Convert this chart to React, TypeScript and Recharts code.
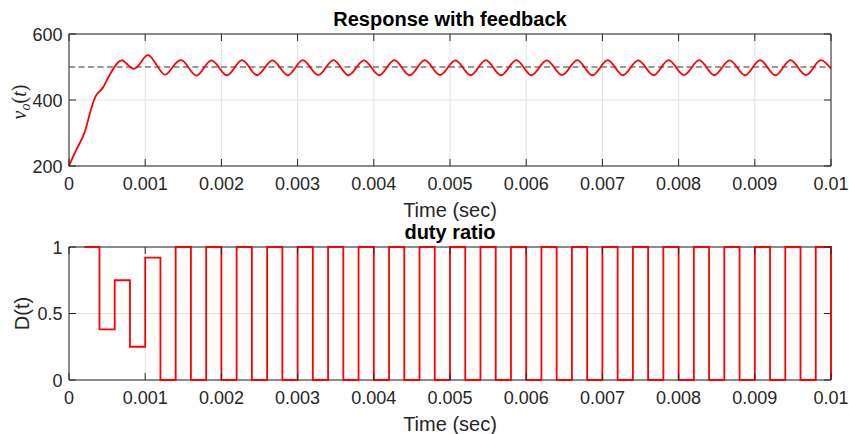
import { LineChart, Line, XAxis, YAxis, CartesianGrid, ReferenceLine, ReferenceArea } from "recharts";

// v_o(t): start-up, then crests / crossings / troughs of the ripple
const vTimes = [
  0, 0.0001, 0.0002, 0.00026, 0.00032, 0.00037, 0.00044, 0.00051, 0.00058, 0.00064,
  0.0007, 0.00078, 0.00086, 0.00095, 0.00104, 0.00115, 0.00126, 0.00136, 0.00147,
  0.00157, 0.00167, 0.00177, 0.00187, 0.00197, 0.00207, 0.00217, 0.00227,
  0.00237, 0.00247, 0.00257, 0.00267, 0.00277, 0.00287, 0.00297, 0.00307,
  0.00317, 0.00327, 0.00337, 0.00347, 0.00357, 0.00367, 0.00377, 0.00387,
  0.00397, 0.00407, 0.00417, 0.00427, 0.00437, 0.00447, 0.00457, 0.00467,
  0.00477, 0.00487, 0.00497, 0.00507, 0.00517, 0.00527, 0.00537, 0.00547,
  0.00557, 0.00567, 0.00577, 0.00587, 0.00597, 0.00607, 0.00617, 0.00627,
  0.00637, 0.00647, 0.00657, 0.00667, 0.00677, 0.00687, 0.00697, 0.00707,
  0.00717, 0.00727, 0.00737, 0.00747, 0.00757, 0.00767, 0.00777, 0.00787,
  0.00797, 0.00807, 0.00817, 0.00827, 0.00837, 0.00847, 0.00857, 0.00867,
  0.00877, 0.00887, 0.00897, 0.00907, 0.00917, 0.00927, 0.00937, 0.00947,
  0.00957, 0.00967, 0.00977, 0.00987, 0.01,
];
const vValues = [
  200, 251, 299, 348, 394, 419, 436, 466, 494, 513,
  520, 505, 495, 516, 536, 506, 477, 500, 521,
  498, 474, 497, 520, 498, 475, 497, 521,
  498, 475, 498, 520, 498, 475, 498, 521,
  498, 476, 498, 521, 498, 475, 498, 520,
  498, 475, 498, 521, 498, 475, 498, 521,
  498, 476, 498, 520, 498, 475, 498, 521,
  498, 475, 498, 521, 498, 475, 498, 520,
  498, 476, 498, 521, 498, 475, 498, 521,
  498, 475, 498, 520, 498, 475, 498, 521,
  498, 476, 498, 521, 498, 475, 498, 520,
  498, 475, 498, 521, 498, 475, 498, 521,
  498, 476, 498, 521, 495,
];
const vSetpoint = 500;

// duty ratio D(t), held over each 0.2 ms sample
const dTimes = [
  0.0002, 0.0004, 0.0006, 0.0008, 0.001, 0.0012, 0.0014, 0.0016, 0.0018, 0.002,
  0.0022, 0.0024, 0.0026, 0.0028, 0.003, 0.0032, 0.0034, 0.0036, 0.0038, 0.004,
  0.0042, 0.0044, 0.0046, 0.0048, 0.005, 0.0052, 0.0054, 0.0056, 0.0058, 0.006,
  0.0062, 0.0064, 0.0066, 0.0068, 0.007, 0.0072, 0.0074, 0.0076, 0.0078, 0.008,
  0.0082, 0.0084, 0.0086, 0.0088, 0.009, 0.0092, 0.0094, 0.0096, 0.0098, 0.01,
];
const dValues = [
  1, 0.38, 0.75, 0.25, 0.92, 0, 1, 0, 1, 0,
  1, 0, 1, 0, 1, 0, 1, 0, 1, 0,
  1, 0, 1, 0, 1, 0, 1, 0, 1, 0,
  1, 0, 1, 0, 1, 0, 1, 0, 1, 0,
  1, 0, 1, 0, 1, 0, 1, 0, 1, 0,
];

const xTicks = [0, 0.001, 0.002, 0.003, 0.004, 0.005, 0.006, 0.007, 0.008, 0.009, 0.01];
const vTicks = [200, 400, 600];
const dTicks = [0, 0.5, 1];

const vData = vTimes.map((t, i) => ({ t, v: vValues[i] }));
const dData = dTimes.map((t, i) => ({ t, d: dValues[i] }));

const RED = "#ff0000";
const AXIS = "#262626";
const GRID = "#e2e2e2";
const FONT = '"Liberation Sans", Arial, Helvetica, sans-serif';
const RIGHT = 831; // right edge of both plot boxes
const TICK = 7;

// inward ticks on bottom + top edge, label below
function XTick({ x, y, payload, top }: any) {
  return (
    <g>
      <line x1={x} x2={x} y1={y} y2={y - TICK} stroke={AXIS} />
      <line x1={x} x2={x} y1={top} y2={top + TICK} stroke={AXIS} />
      <text x={x} y={y + 24} textAnchor="middle" fontSize={18} fontFamily={FONT} fill={AXIS}>
        {String(payload.value)}
      </text>
    </g>
  );
}

// inward ticks on left + right edge, label to the left
function YTick({ x, y, payload }: any) {
  return (
    <g>
      <line x1={x} x2={x + TICK} y1={y} y2={y} stroke={AXIS} />
      <line x1={RIGHT - TICK} x2={RIGHT} y1={y} y2={y} stroke={AXIS} />
      <text x={x - 6.5} y={y + 6.5} textAnchor="end" fontSize={18} fontFamily={FONT} fill={AXIS}>
        {String(payload.value)}
      </text>
    </g>
  );
}

export default function App() {
  return (
    <div style={{ position: "absolute", left: 0, top: 0, width: 849, height: 434, background: "#fff" }}>
      {/* Response with feedback */}
      <div style={{ position: "absolute", left: 0, top: 0 }}>
        <LineChart width={849} height={230} data={vData} margin={{ top: 34, right: 18, bottom: 0, left: 0 }}>
          <CartesianGrid stroke={GRID} />
          <XAxis
            dataKey="t" type="number" domain={[0, 0.01]} ticks={xTicks} interval={0}
            height={64} tickSize={0} tickMargin={0} axisLine={false}
            tick={(p: any) => <XTick {...p} top={34} />}
          />
          <YAxis
            type="number" domain={[200, 600]} ticks={vTicks} interval={0}
            width={69} tickSize={0} tickMargin={0} axisLine={false}
            tick={(p: any) => <YTick {...p} />}
          />
          <ReferenceArea x1={0} x2={0.01} y1={200} y2={600} fill="none" stroke={AXIS} ifOverflow="visible" />
          <ReferenceLine y={vSetpoint} stroke="#333" strokeDasharray="6 3.5" strokeWidth={1} />
          <Line type="natural" dataKey="v" stroke={RED} strokeWidth={1.8} dot={false} isAnimationActive={false} />
        </LineChart>
      </div>

      {/* duty ratio */}
      <div style={{ position: "absolute", left: 0, top: 230 }}>
        <LineChart width={849} height={204} data={dData} margin={{ top: 17, right: 18, bottom: 0, left: 0 }}>
          <CartesianGrid stroke={GRID} />
          <XAxis
            dataKey="t" type="number" domain={[0, 0.01]} ticks={xTicks} interval={0}
            height={54} tickSize={0} tickMargin={0} axisLine={false}
            tick={(p: any) => <XTick {...p} top={17} />}
          />
          <YAxis
            type="number" domain={[0, 1]} ticks={dTicks} interval={0}
            width={69} tickSize={0} tickMargin={0} axisLine={false}
            tick={(p: any) => <YTick {...p} />}
          />
          <ReferenceArea x1={0} x2={0.01} y1={0} y2={1} fill="none" stroke={AXIS} ifOverflow="visible" />
          <Line type="stepAfter" dataKey="d" stroke={RED} strokeWidth={1.8} dot={false} isAnimationActive={false} />
        </LineChart>
      </div>

      {/* titles and axis labels */}
      <svg width={849} height={434} style={{ position: "absolute", left: 0, top: 0, pointerEvents: "none" }}>
        <text x={450} y={26} textAnchor="middle" fontSize={20} fontWeight="bold" fontFamily={FONT} fill="#000">
          Response with feedback
        </text>
        <text x={450} y={216.5} textAnchor="middle" fontSize={20} fontFamily={FONT} fill={AXIS}>
          Time (sec)
        </text>
        <text x={450} y={239} textAnchor="middle" fontSize={20} fontWeight="bold" fontFamily={FONT} fill="#000">
          duty ratio
        </text>
        <text x={450} y={430.5} textAnchor="middle" fontSize={20} fontFamily={FONT} fill={AXIS}>
          Time (sec)
        </text>
        <text transform="translate(26,102) rotate(-90)" textAnchor="middle" fontSize={20}
          fontFamily='"Liberation Serif", "DejaVu Serif", serif' fill={AXIS}>
          <tspan fontStyle="italic">v</tspan>
          <tspan fontStyle="italic" fontSize={14} dy={4}>o</tspan>
          <tspan dy={-4}>(</tspan>
          <tspan fontStyle="italic">t</tspan>
          <tspan>)</tspan>
        </text>
        <text transform="translate(29,313.5) rotate(-90)" textAnchor="middle" fontSize={20} fontFamily={FONT} fill={AXIS}>
          D(t)
        </text>
      </svg>
    </div>
  );
}
